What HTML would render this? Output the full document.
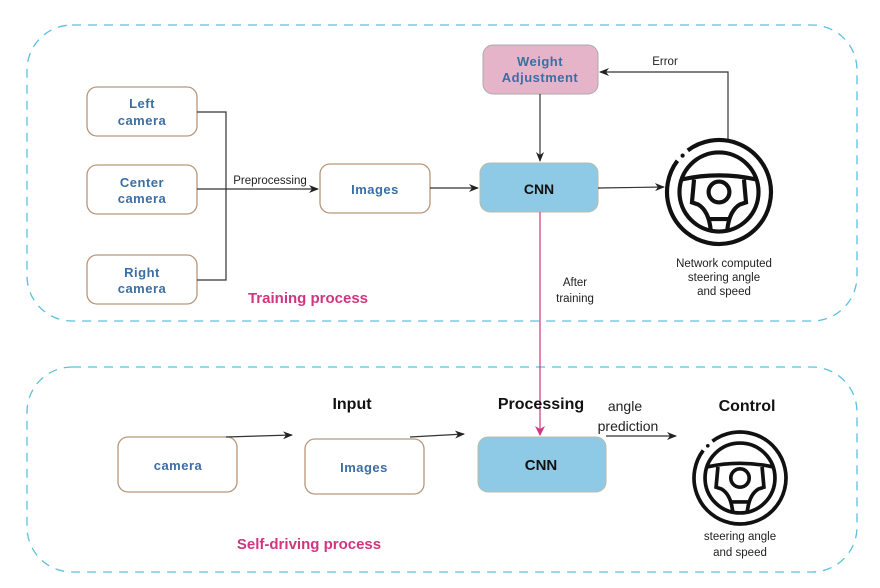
<!DOCTYPE html>
<html><head><meta charset="utf-8"><style>
html,body{margin:0;padding:0;background:#fff;}
svg{display:block;}
.b{font-family:"Liberation Sans",sans-serif;font-weight:bold;fill:#3a6ea5;font-size:13px;text-anchor:middle;letter-spacing:0.5px}
.t{font-family:"Liberation Sans",sans-serif;fill:#222;font-size:11.5px;text-anchor:middle}
.h{font-family:"Liberation Sans",sans-serif;font-weight:bold;fill:#111;font-size:16px;text-anchor:middle}
.p{font-family:"Liberation Sans",sans-serif;font-weight:bold;fill:#d0357f;font-size:15px;text-anchor:middle}
</style></head><body>
<svg width="880" height="588" viewBox="0 0 880 588" xmlns="http://www.w3.org/2000/svg">
<defs>
<marker id="a" markerWidth="10" markerHeight="8" refX="9" refY="4" orient="auto" markerUnits="userSpaceOnUse"><path d="M0,0 L10,4 L0,8 L3,4 Z" fill="#222"/></marker>
<marker id="ap" markerWidth="10" markerHeight="10" refX="5" refY="9" orient="0" markerUnits="userSpaceOnUse"><path d="M0,0 L5,10 L10,0 L5,3 Z" fill="#d0357f"/></marker>
<g id="w" fill="none" stroke="#111" stroke-width="4">
<path d="M-30,-40 A50,50 0 1 1 -40,-30"/>
<circle cx="-35" cy="-35" r="2" fill="#111" stroke="none"/>
<circle r="38"/>
<path d="M-36,-12 Q0,-20 36,-12"/>
<circle cy="0" r="10"/>
<path d="M-24,-12 L-26,10 L-20,12 Q-10,18 -8,36"/>
<path d="M24,-12 L26,10 L20,12 Q10,18 8,36"/>
<path d="M-10,26 L10,26"/>
</g>
</defs>
<rect x="27" y="25" width="830" height="296" rx="45" fill="none" stroke="#5bc0de" stroke-width="1.3" stroke-dasharray="9,7"/>
<rect x="27" y="367" width="830" height="205" rx="45" fill="none" stroke="#5bc0de" stroke-width="1.3" stroke-dasharray="9,7"/>
<g fill="#fff" stroke="#b8967a" stroke-width="1.3">
<rect x="87" y="87" width="110" height="49" rx="10"/>
<rect x="87" y="165" width="110" height="49" rx="10"/>
<rect x="87" y="255" width="110" height="49" rx="10"/>
<rect x="320" y="164" width="110" height="49" rx="10"/>
<rect x="118" y="437" width="119" height="55" rx="10"/>
<rect x="305" y="439" width="119" height="55" rx="10"/>
</g>
<rect x="483" y="45" width="115" height="49" rx="10" fill="#e5b4c9" stroke="#aaa" stroke-width="1"/>
<rect x="480" y="163" width="118" height="49" rx="10" fill="#8ecae6" stroke="#bba" stroke-width="1"/>
<rect x="478" y="437" width="128" height="55" rx="10" fill="#8ecae6" stroke="#bba" stroke-width="1"/>
<g stroke="#333" stroke-width="1.2" fill="none">
<path d="M197,112 H226 V280 H197"/>
<path d="M197,189 H318" marker-end="url(#a)"/>
<path d="M430,188 H478" marker-end="url(#a)"/>
<path d="M540,94 V161" marker-end="url(#a)"/>
<path d="M728,140 V72 H600" marker-end="url(#a)"/>
<path d="M598,188 L664,187" marker-end="url(#a)"/>
<path d="M226,437 L292,435" marker-end="url(#a)"/>
<path d="M410,437 L464,434" marker-end="url(#a)"/>
<path d="M606,436 L676,436" marker-end="url(#a)"/>
</g>
<path d="M540,212 V435" stroke="#d0357f" stroke-width="1.2" fill="none" marker-end="url(#ap)"/>
<use href="#w" transform="translate(719,192) scale(1.04)"/>
<use href="#w" transform="translate(740,478) scale(0.92)"/>
<text class="b" x="142" y="108">Left</text><text class="b" x="142" y="125">camera</text>
<text class="b" x="142" y="187">Center</text><text class="b" x="142" y="203">camera</text>
<text class="b" x="142" y="277">Right</text><text class="b" x="142" y="293">camera</text>
<text class="b" x="375" y="194">Images</text>
<text class="b" x="540" y="66">Weight</text><text class="b" x="540" y="82">Adjustment</text>
<text class="h" x="539" y="194" style="font-size:14px">CNN</text>
<text class="b" x="178" y="470">camera</text>
<text class="b" x="364" y="472">Images</text>
<text class="h" x="541" y="470" style="font-size:15px">CNN</text>
<text class="t" x="270" y="184">Preprocessing</text>
<text class="t" x="665" y="65">Error</text>
<text class="t" x="575" y="286">After</text><text class="t" x="575" y="302">training</text>
<text class="t" x="724" y="267">Network computed</text><text class="t" x="724" y="281">steering angle</text><text class="t" x="724" y="295">and speed</text>
<text class="t" x="740" y="540">steering angle</text><text class="t" x="740" y="556">and speed</text>
<text class="t" x="625" y="411" style="font-size:14px">angle</text><text class="t" x="628" y="431" style="font-size:14px">prediction</text>
<text class="h" x="352" y="409">Input</text>
<text class="h" x="541" y="409">Processing</text>
<text class="h" x="747" y="411">Control</text>
<text class="p" x="308" y="303">Training process</text>
<text class="p" x="309" y="549">Self-driving process</text>
</svg>
</body></html>
